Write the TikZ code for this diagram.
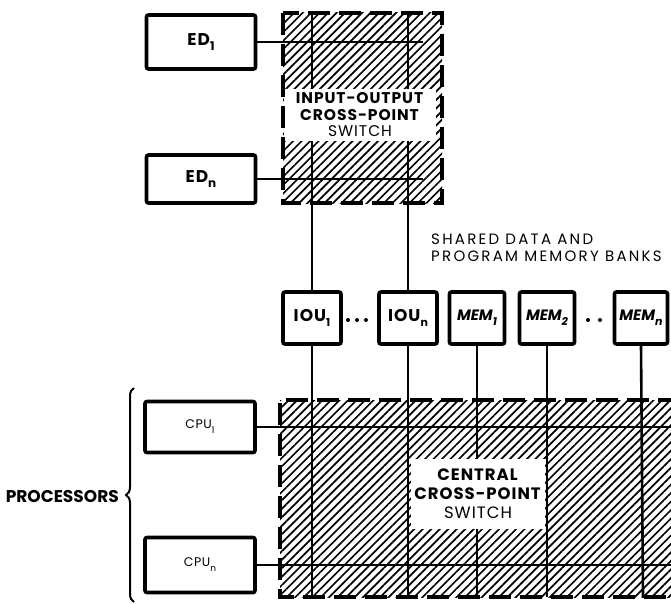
\documentclass[tikz,border=0pt]{standalone}
\usepackage{fontspec}
\setmainfont{Poppins}
\usetikzlibrary{patterns.meta,decorations.pathreplacing}
% lowered subscript used in the unit names (optional size in pt)
\newcommand\unitsub[2][11]{\raisebox{-5pt}{\fontsize{#1}{#1}\selectfont #2}}
% sized, letter-spaced faces
\newcommand\spaced[3]{\fontsize{#1}{#2}\selectfont\addfontfeatures{LetterSpace=#3}}
\begin{document}
\begin{tikzpicture}[x=1pt,y=-1pt,
  unitbox/.style={draw,line width=3.6pt,rounded corners=2pt,fill=white,
    inner sep=0pt,font=\spaced{17}{18}{6}\bfseries},
  membox/.style={unitbox,font=\spaced{15}{16}{0}\bfseries\itshape},
  cpubox/.style={unitbox,font=\spaced{12.5}{14}{4}},
  wire/.style={line width=2.6pt},
  hatch/.style={pattern={Lines[angle=45,distance=6pt,line width=1.7pt]}},
  swborder/.style={line width=3.6pt,dash pattern=on 22pt off 9pt},
  clearlabel/.style={fill=white,inner sep=0pt,align=center}]
\useasboundingbox (0,0) rectangle (671,604);

% hatched switch fields
\fill[hatch] (283,13) rectangle (442,203);
\fill[hatch] (280,400) rectangle (675,597);

% external devices and the units
\node[unitbox,minimum width=109pt,minimum height=54pt] (ed1) at (201,42) {ED\unitsub[12]{1}};
\node[unitbox,minimum width=109pt,minimum height=48pt] (edn) at (201,179) {ED\unitsub[12]{n}};
\node[unitbox,minimum width=58pt,minimum height=52pt] (iou1) at (312,318) {IOU\unitsub{1}};
\node[unitbox,minimum width=58pt,minimum height=52pt] (ioun) at (408,318) {IOU\unitsub{n}};
\node[membox,minimum width=55pt,minimum height=52pt] (mem1) at (477,318) {MEM\unitsub{1}};
\node[membox,minimum width=55pt,minimum height=52pt] (mem2) at (547,318) {MEM\unitsub{2}};
\node[membox,minimum width=53pt,minimum height=52pt] (memn) at (641,318) {MEM\unitsub{n}};
\node[cpubox,minimum width=110pt,minimum height=51pt] (cpu1) at (200,427) {CPU\unitsub[9]{1}};
\node[cpubox,minimum width=110pt,minimum height=55pt] (cpun) at (200,565) {CPU\unitsub[9]{n}};

% wire end points on the switch fields
\coordinate (ioa) at (423,42);
\coordinate (iob) at (423,179);
\coordinate (iot1) at (312,13);
\coordinate (iotn) at (408,13);
\coordinate (cb1) at (312,597);
\coordinate (cbn) at (408,597);
\coordinate (cbm1) at (477,597);
\coordinate (cbm2) at (547,597);
\coordinate (cbmn) at (643,597);
\coordinate (cra) at (675,427);
\coordinate (crb) at (675,565);

% input-output cross-point switch wiring
\draw[wire] (ed1.east) -- (ioa);
\draw[wire] (edn.east) -- (iob);
\draw[wire] (iot1) -- (iou1.north);
\draw[wire] (iotn) -- (ioun.north);

% central cross-point switch wiring
\draw[wire] (iou1.south) -- (cb1);
\draw[wire] (ioun.south) -- (cbn);
\draw[wire] (mem1.south) -- (cbm1);
\draw[wire] (mem2.south) -- (cbm2);
\draw[wire] (memn.south) -- (cbmn);
\draw[wire] (cpu1.east) -- (cra);
\draw[wire] (cpun.east) -- (crb);

% switch labels on cleared ground
\node[clearlabel,minimum width=152pt,minimum height=52pt,
  font=\spaced{15.5}{16.5}{6}] (iolabel) at (360,115)
  {\textbf{INPUT-OUTPUT}\\\textbf{CROSS-POINT}\\SWITCH};
\node[clearlabel,minimum width=134pt,minimum height=70pt,
  font=\spaced{16.5}{19}{6}] (cslabel) at (478,494)
  {\textbf{CENTRAL}\\\textbf{CROSS-POINT}\\SWITCH};

% dashed outlines of the switches
\draw[swborder] (283,13) rectangle (442,203);
\draw[swborder] (680,400) -- (280,400) -- (280,597) -- (680,597);

% ellipsis dots in the unit row
\foreach \x in {348,357,366} \fill (\x,320) circle (2pt);
\foreach \x in {588,600} \fill (\x,320) circle (2pt);

% memory bank caption
\node[anchor=north west,align=left,inner sep=0pt,
  font=\spaced{15}{17}{15}] (memcap) at (431,234)
  {SHARED DATA AND\\PROGRAM MEMORY BANKS};

% processor group
\draw[line width=2pt,decorate,decoration={brace,amplitude=8pt}]
  (134,602) -- (134,388);
\node[anchor=east,inner sep=0pt,font=\spaced{17}{18}{0}\bfseries]
  (proclabel) at (119,497) {PROCESSORS};
\end{tikzpicture}
\end{document}
